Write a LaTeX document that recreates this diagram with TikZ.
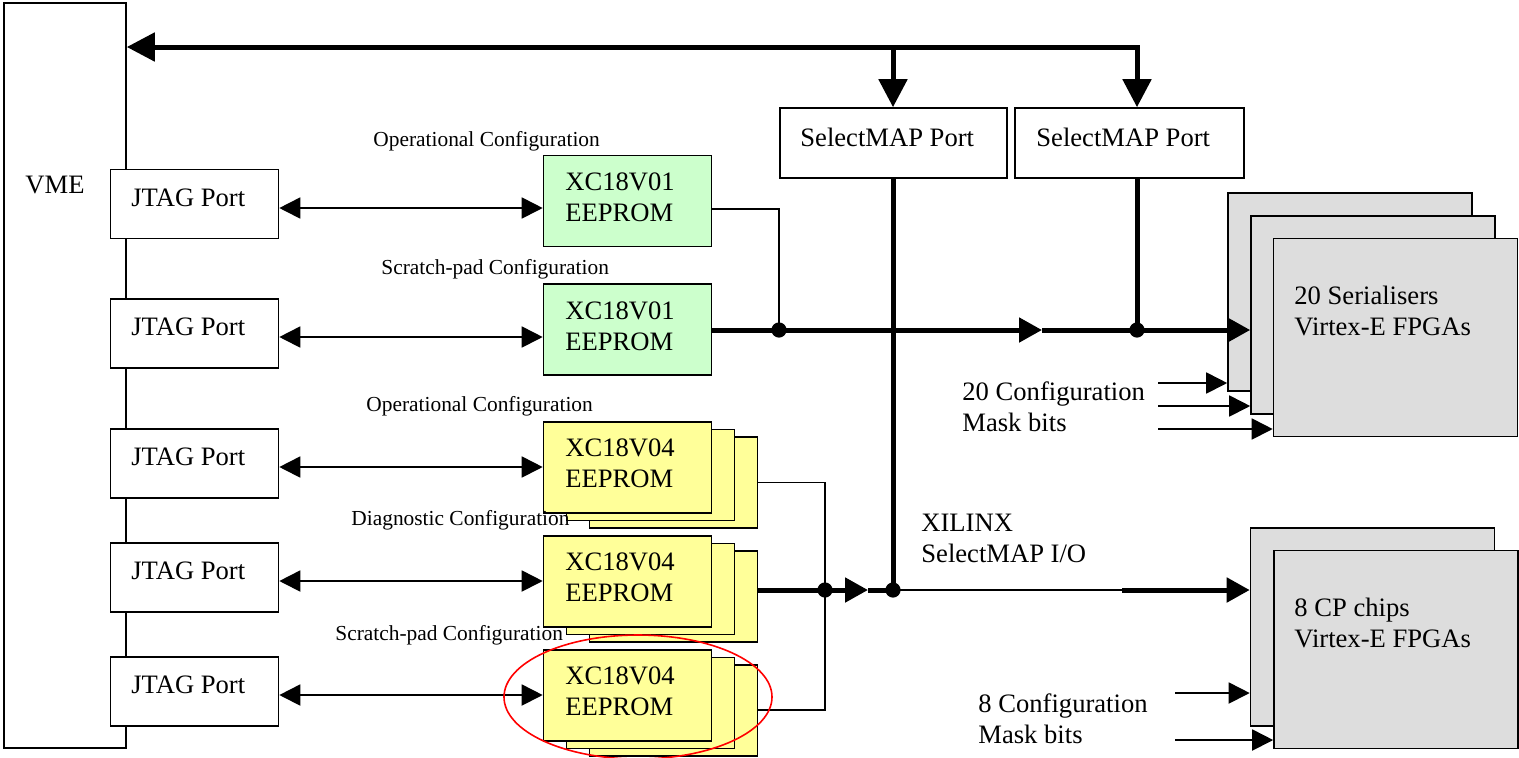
\documentclass[tikz,border=0pt]{standalone}
\usepackage{fontspec}
\setmainfont{Liberation Serif}
\usetikzlibrary{arrows.meta,calc}
\definecolor{eegreen}{HTML}{CCFFCC}
\definecolor{eeyellow}{HTML}{FFFF99}
\definecolor{chipgray}{HTML}{DDDDDD}
\begin{document}
\begin{tikzpicture}[x=0.5pt,y=-0.5pt,
  box/.style={draw, line width=0.8pt, inner sep=0pt, fill=white},
  jtagbox/.style={box, minimum width=84pt, minimum height=34.5pt},
  smbox/.style={box, minimum height=35pt},
  eebox/.style={box, minimum width=84pt, minimum height=45.5pt},
  chipbox/.style={box, fill=chipgray, minimum width=122pt, minimum height=99pt},
  big/.style={font=\fontsize{13.3}{15.5}\selectfont, inner sep=0pt, align=left, anchor=west},
  small/.style={font=\fontsize{10.7}{13}\selectfont, inner sep=0pt, anchor=west},
  conn/.style={line width=0.9pt},
  bus/.style={line width=2.5pt},
  tipS/.style={-{Triangle[length=10.5pt,width=10.5pt]}},
  tipSS/.style={{Triangle[length=10.5pt,width=10.5pt]}-{Triangle[length=10.5pt,width=10.5pt]}},
  tipM/.style={-{Triangle[length=11.5pt,width=12pt]}},
  tipL/.style={-{Triangle[length=14pt,width=14pt]}},
  dot/.style={circle, fill=black, inner sep=0pt, minimum size=7.6pt}
]
\useasboundingbox (0,0) rectangle (1519,757);

% VME
\node[box, minimum width=61pt, minimum height=372.5pt] (vme) at (65,375.5) {};
\node[big] (vmet) at (25,185) {VME};

% JTAG ports
\node[jtagbox] (j1) at (194.5,204) {};
\node[jtagbox] (j2) at (194.5,333.5) {};
\node[jtagbox] (j3) at (194.5,463.5) {};
\node[jtagbox] (j4) at (194.5,577.5) {};
\node[jtagbox] (j5) at (194.5,691.5) {};
\node[big] (j1t) at (131,198) {JTAG Port};
\node[big] (j2t) at (131,327) {JTAG Port};
\node[big] (j3t) at (131,457) {JTAG Port};
\node[big] (j4t) at (131,571) {JTAG Port};
\node[big] (j5t) at (131,685) {JTAG Port};

% SelectMAP ports
\node[smbox, minimum width=113.5pt] (sm1) at (893.5,143) {};
\node[smbox, minimum width=114.5pt] (sm2) at (1129.5,143) {};
\node[big] (sm1t) at (800,137) {SelectMAP Port};
\node[big] (sm2t) at (1036,137) {SelectMAP Port};

% Green EEPROMs
\node[eebox, fill=eegreen] (g1) at (627.5,201) {};
\node[eebox, fill=eegreen] (g2) at (627.5,329.5) {};
\node[big] (g1t) at (565,197.5) {XC18V01\\EEPROM};
\node[big] (g2t) at (565,326.5) {XC18V01\\EEPROM};

% Yellow EEPROM stacks
\foreach \n/\cy in {1/467.5, 2/581.5, 3/695.5}{
  \node[eebox, fill=eeyellow] (y\n c) at (673.5,\cy+15) {};
  \node[eebox, fill=eeyellow] (y\n b) at (650.5,\cy+7.5) {};
  \node[eebox, fill=eeyellow] (y\n a) at (627.5,\cy) {};
}
\node[big] (y1t) at (565,463) {XC18V04\\EEPROM};
\node[big] (y2t) at (565,577) {XC18V04\\EEPROM};
\node[big] (y3t) at (565,691.5) {XC18V04\\EEPROM};

% Configuration labels
\node[small] (l1) at (373,141) {Operational Configuration};
\node[small] (l2) at (381,269) {Scratch-pad Configuration};
\node[small] (l3) at (366,406) {Operational Configuration};
\node[small] (l4) at (351,520) {Diagnostic Configuration};
\node[small] (l5) at (335,635) {Scratch-pad Configuration};

% Serialiser stack
\node[chipbox] (s1) at (1350,292) {};
\node[chipbox] (s2) at (1373,315) {};
\node[chipbox] (s3) at (1395.5,337.5) {};
\node[big] (s3t) at (1294,311) {20 Serialisers\\Virtex-E FPGAs};

% CP stack
\node[chipbox] (c1) at (1372.5,627) {};
\node[chipbox] (c2) at (1396,649.5) {};
\node[big] (c2t) at (1294,623) {8 CP chips\\Virtex-E FPGAs};

% other texts
\node[big] (mk1) at (962,407) {20 Configuration\\Mask bits};
\node[big] (mk2) at (978,718.5) {8 Configuration\\Mask bits};
\node[big] (xil) at (921,538) {XILINX\\SelectMAP I/O};

% JTAG double arrows
\draw[conn,tipSS] (j1.east |- 0,208) -- (g1.west |- 0,208);
\draw[conn,tipSS] (j2.east |- 0,337) -- (g2.west |- 0,337);
\draw[conn,tipSS] (j3.east |- 0,467) -- (y1a.west |- 0,467);
\draw[conn,tipSS] (j4.east |- 0,581) -- (y2a.west |- 0,581);
\draw[conn,tipSS] (j5.east |- 0,695) -- (y3a.west |- 0,695);

% top bus
\coordinate (tb1) at (893,47);
\coordinate (tb2) at (1137,47);
\draw[bus,tipL] (tb2) -- (vme.east |- tb2);
\draw[bus,tipL,line join=miter] (tb1) -- (tb2) -- (sm2.north -| tb2);
\draw[bus,tipL] (tb1) -- (sm1.north -| tb1);

% green EEPROM bus
\coordinate (gj) at (779,330);
\coordinate (ga) at (1042,330);
\coordinate (sj) at (1137,330);
\draw[conn] (g1.east |- 0,209) -- (779,209) -- (gj);
\draw[bus] (g2.east |- gj) -- (gj);
\draw[bus,tipM] (gj) -- (ga);
\draw[bus,tipM] (ga) -- (sj) -- (s2.west |- sj);
\draw[bus] (sm2.south -| sj) -- (sj);

% yellow EEPROM bus
\coordinate (yj) at (825,590);
\coordinate (ya) at (868,590);
\coordinate (xj) at (893,590);
\coordinate (xt) at (1122,590);
\draw[conn] (y1c.east |- 0,482.5) -- (825,482.5) -- (825,710) -- (y3c.east |- 0,710);
\draw[bus] (y2c.east |- yj) -- (yj);
\draw[bus,tipM] (yj) -- (ya);
\draw[bus] (ya) -- (xj);
\draw[bus] (sm1.south -| xj) -- (xj);
\draw[conn] (xj) -- (xt);
\draw[bus,tipM] (xt) -- (c1.west |- xt);

% mask bit arrows
\draw[conn,tipS] (1158,383) -- (s1.west |- 0,383);
\draw[conn,tipS] (1158,406) -- (s2.west |- 0,406);
\draw[conn,tipS] (1158,429) -- (s3.west |- 0,429);
\draw[conn,tipS] (1175,693) -- (c1.west |- 0,693);
\draw[conn,tipS] (1175,740) -- (c2.west |- 0,740);

% junction dots
\node[dot] (dgj) at (gj) {};
\node[dot] (dsj) at (sj) {};
\node[dot] (dyj) at (yj) {};
\node[dot] (dxj) at (xj) {};

% red ellipse
\draw[red, line width=0.8pt] (638,697) ellipse [x radius=134, y radius=62];
\end{tikzpicture}
\end{document}
